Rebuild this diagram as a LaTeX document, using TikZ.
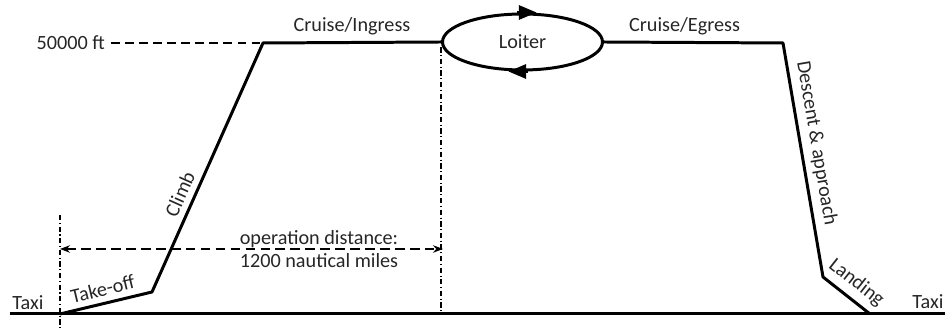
\documentclass[tikz,border=0pt]{standalone}
\usepackage{fontspec}
\setmainfont{Carlito}
\usetikzlibrary{arrows.meta,shapes.geometric}
\tikzset{
	flight/.style={line width=1.7pt,line join=round},
	lbl/.style={font=\fontsize{11.5}{13.5}\selectfont,text=black!85},
	guide/.style={semithick,dash pattern=on 3pt off 1.5pt on 0.6pt off 1.5pt},
	loopdir/.style={line width=1.4pt,-{Triangle[length=10pt,width=8pt]}},
}
\begin{document}
\begin{tikzpicture}[>=Stealth]
			\useasboundingbox (0,0) rectangle (18.9,6.62);
			\coordinate (g0) at (0.2,0.34);% ground, left end
			\coordinate (g1) at (18.9,0.34);% ground, right end
			\coordinate (start) at (1.2,0.34);
			\coordinate (lift) at (3.04,0.78);
			\coordinate (top) at (5.26,5.76);
			\coordinate (endcruise) at (15.66,5.76);
			\coordinate (flare) at (16.46,1.08);
			\coordinate (touch) at (17.4,0.34);
			\coordinate (guidetop) at (1.2,2.32);
			\coordinate (guidebot) at (1.2,0);
			\coordinate (opl) at (1.2,1.64);
			\coordinate (opr) at (8.86,1.64);

			\node[draw,ellipse,line width=1.7pt,minimum width=3.2cm,minimum height=1.12cm,inner sep=0,lbl] (loiter) at (10.45,5.78) {Loiter};
			\draw[loopdir] ([xshift=-3pt]loiter.north) -- ([xshift=8pt]loiter.north);% top arrow
			\draw[loopdir] ([xshift=3pt]loiter.south) -- ([xshift=-8pt]loiter.south);% bottom arrow

			\draw[line width=1.7pt] (g0) -- (g1);% ground line
			\draw[flight] (start) -- node[above,sloped,lbl] {Take-off} (lift)
				-- node[above,sloped,pos=0.37,lbl] {Climb} (top)
				-- node[above,lbl] {Cruise/Ingress} (loiter.west);
			\draw[flight] (loiter.east) -- node[above,pos=0.45,lbl] {Cruise/Egress} (endcruise)
				-- node[above,sloped,pos=0.44,lbl] {Descent \& approach} (flare)
				-- node[above,sloped,lbl] {Landing} (touch);

			\node[lbl,anchor=east] (alt) at (2.22,5.76) {50000 ft};
			\draw[semithick,dash pattern=on 5pt off 3pt] (alt.east) -- (top);

			\draw[guide] (guidetop) -- (guidebot);
			\draw[guide] ([yshift=-3pt]loiter.west) -- (loiter.west |- start);
			\draw[<->,semithick,dash pattern=on 5.5pt off 3pt] (opl) -- (opr);
			\node[lbl] (optop) at (6.38,1.84) {operation distance:};
			\node[lbl] (opbot) at (6.38,1.40) {1200 nautical miles};

			\node[lbl,anchor=base] (taxil) at (0.56,0.42) {Taxi};
			\node[lbl,anchor=base] (taxir) at (18.56,0.44) {Taxi};
		\end{tikzpicture}
\end{document}
